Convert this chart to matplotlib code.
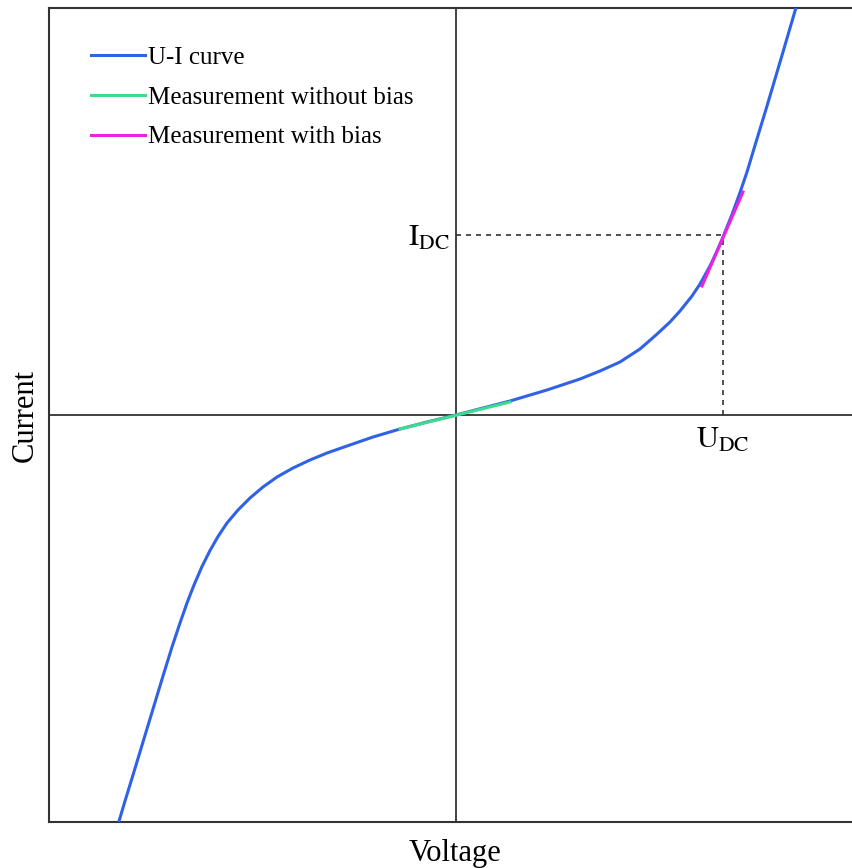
import numpy as np
from matplotlib import pyplot as plt

# U-I curve (arbitrary units, origin at the crossing)
u_curve = [-3.39, -3.31, -3.23, -3.13, -3.03, -2.93, -2.84, -2.76, -2.69, -2.62,
           -2.54, -2.46, -2.38, -2.29, -2.18, -2.06, -1.93, -1.79, -1.63, -1.46,
           -1.29, -1.09, -0.83, -0.56, -0.29, 0.0, 0.27, 0.54, 0.91, 1.24,
           1.44, 1.64, 1.84, 2.00, 2.14, 2.24, 2.36, 2.44, 2.54, 2.61,
           2.67, 2.76, 2.84, 2.91, 2.97, 3.04, 3.11, 3.19, 3.27, 3.39, 3.43]
i_curve = [-4.13, -3.86, -3.60, -3.27, -2.94, -2.61, -2.32, -2.08, -1.88, -1.70,
           -1.515, -1.355, -1.215, -1.08, -0.95, -0.83, -0.72, -0.62, -0.53, -0.45,
           -0.38, -0.31, -0.22, -0.14, -0.07, 0.0, 0.07, 0.14, 0.25, 0.36,
           0.44, 0.53, 0.66, 0.80, 0.93, 1.04, 1.19, 1.31, 1.49, 1.64,
           1.78, 2.005, 2.225, 2.43, 2.63, 2.86, 3.09, 3.36, 3.63, 4.04, 4.18]

# tangent segments
u_nobias = [-0.56, 0.54]
i_nobias = [-0.14, 0.13]
u_bias = [2.46, 2.87]
i_bias = [1.29, 2.23]

# operating point
u_dc = 2.67
i_dc = 1.80

plt.rcParams['font.family'] = ['Liberation Serif', 'DejaVu Serif']
plt.rcParams['mathtext.fontset'] = 'stix'

fig = plt.figure(figsize=(8.52, 8.68), dpi=100)
ax = fig.add_axes([49 / 852, 46 / 868, 811 / 852, 814 / 868])

ax.axhline(0, color='#333333', lw=1.3, zorder=1)
ax.axvline(0, color='#333333', lw=1.3, zorder=1)

ax.plot(u_curve, i_curve, color='#2f62e6', lw=2.2, label='U-I curve', zorder=3,
        solid_joinstyle='round')
ax.plot(u_nobias, i_nobias, color='#3ddc8c', lw=2.2, label='Measurement without bias', zorder=4)
ax.plot(u_bias, i_bias, color='#ee22dd', lw=2.2, label='Measurement with bias', zorder=4)

# dashed guides to the operating point
ax.plot([0, u_dc], [i_dc, i_dc], color='#333333', lw=1.2, ls=(0, (3, 3)), zorder=2)
ax.plot([u_dc, u_dc], [0, i_dc], color='#333333', lw=1.2, ls=(0, (3, 3)), zorder=2)

ax.text(-0.06, i_dc - 0.03, r'$\mathrm{I}_{\mathrm{DC}}$', ha='right', va='center', fontsize=22)
ax.text(u_dc, -0.11, r'$\mathrm{U}_{\mathrm{DC}}$', ha='center', va='top', fontsize=22)

ax.set_xlim(-4.07, 4.04)
ax.set_ylim(-4.07, 4.07)
ax.set_xticks([])
ax.set_yticks([])
for s in ax.spines.values():
    s.set_color('#333333')
    s.set_linewidth(1.5)

ax.set_xlabel('Voltage', fontsize=22, labelpad=12)
ax.set_ylabel('Current', fontsize=22, labelpad=7)

ax.legend(loc='upper left', bbox_to_anchor=(0.040, 0.965), frameon=False,
          fontsize=18, handlelength=2.15, handletextpad=0.1, labelspacing=0.69,
          borderaxespad=0)

fig.savefig('out.png', dpi=100)
